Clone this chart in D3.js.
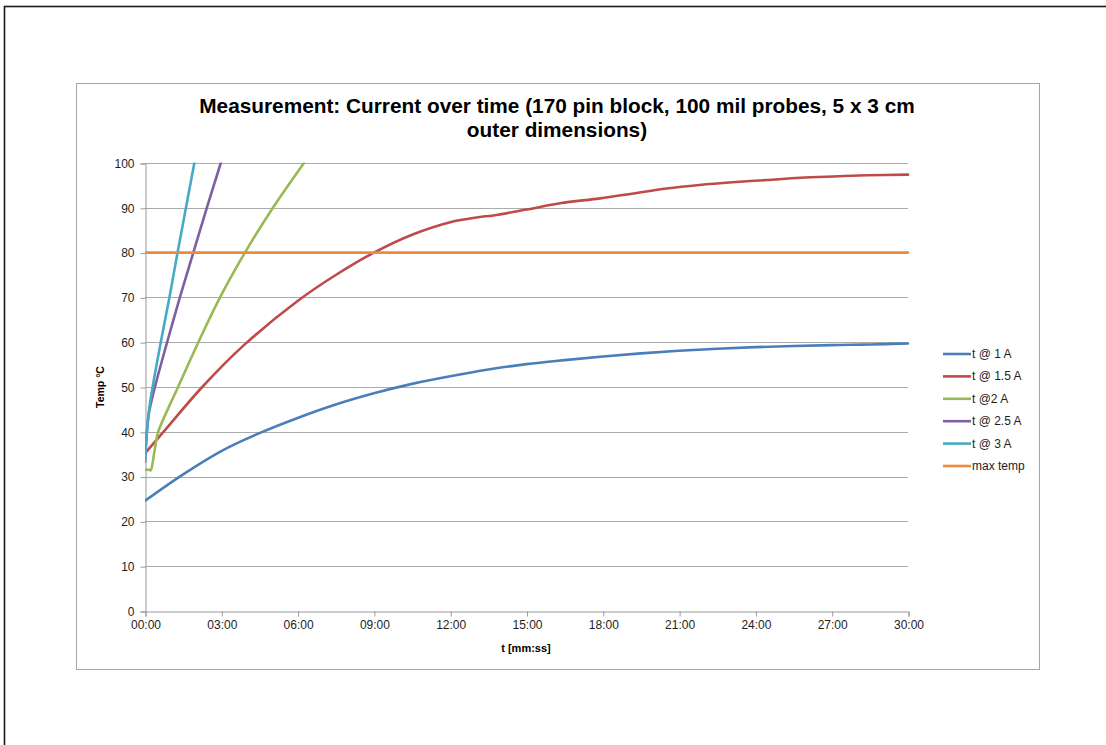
<!DOCTYPE html>
<html>
<head>
<meta charset="utf-8">
<script src="https://cdn.jsdelivr.net/npm/d3@7"></script>
<style>
  html, body { margin: 0; padding: 0; background: #fff; }
  svg { display: block; }
</style>
</head>
<body>
<svg id="chart" width="1106" height="745"></svg>
<script>
// ---------------- data (time in minutes, temperature in °C) ----------------
const titleLines = ["Measurement: Current over time (170 pin block, 100 mil probes, 5 x 3 cm", "outer dimensions)"];
const xAxisTitle = "t [mm:ss]";
const yAxisTitle = "Temp °C";

const xTickValues = [0, 3, 6, 9, 12, 15, 18, 21, 24, 27, 30];
const xTickLabels = ["00:00", "03:00", "06:00", "09:00", "12:00", "15:00", "18:00", "21:00", "24:00", "27:00", "30:00"];
const yTickValues = [0, 10, 20, 30, 40, 50, 60, 70, 80, 90, 100];

const seriesNames = ["t @ 1 A", "t @ 1.5 A", "t @2 A", "t @ 2.5 A", "t @ 3 A", "max temp"];
const seriesColors = ["#4A7EBB", "#BE4B48", "#98B954", "#7D60A0", "#46AAC5", "#EC8B3E"];

const t1A_time = [0, 1.5, 3, 4.5, 6, 7.5, 9, 10.5, 12, 13.5, 15, 16.5, 18, 19.5, 21, 22.5, 24, 25.5, 27, 28.5, 30];
const t1A_temp = [24.6, 30.5, 35.7, 39.7, 43.1, 46.1, 48.6, 50.7, 52.4, 53.9, 55.1, 56.0, 56.8, 57.5, 58.1, 58.55, 58.9, 59.15, 59.35, 59.5, 59.7];

const t15A_time = [0, 0.7, 2.25, 3.9, 6.0, 7.5, 9.0, 10.5, 12.0, 13.1, 13.7, 15.0, 16.32, 17.89, 19.2, 20.5, 21.8, 23.1, 24.45, 25.76, 27.07, 28.38, 30];
const t15A_temp = [35.2, 39.8, 50, 59.4, 69.2, 75, 80, 84.0, 86.8, 87.9, 88.3, 89.6, 91.0, 92.1, 93.2, 94.3, 95.1, 95.7, 96.2, 96.7, 97.0, 97.25, 97.4];

const t2A_time = [0, 0.1, 0.22, 0.27, 0.34, 0.42, 0.52, 1.3, 2.1, 2.95, 3.93, 5.03, 6.25];
const t2A_temp = [31.5, 31.6, 31.4, 32.2, 34.5, 37.3, 40, 50, 60, 70, 80, 90, 100];

const t25A_time = [0, 0.05, 0.15, 0.39, 0.87, 1.37, 1.9, 2.43, 2.98];
const t25A_temp = [33.3, 38, 44, 50, 60, 70, 80, 90, 100];

const t3A_time = [0, 0.05, 0.15, 0.30, 0.62, 0.96, 1.28, 1.61, 1.94];
const t3A_temp = [33.3, 38, 44.5, 50, 60, 70, 80, 90, 100];

const maxTemp_time = [0, 30];
const maxTemp_temp = [80, 80];

// ---------------- build ----------------
const seriesTimes = [t1A_time, t15A_time, t2A_time, t25A_time, t3A_time, maxTemp_time];
const seriesTemps = [t1A_temp, t15A_temp, t2A_temp, t25A_temp, t3A_temp, maxTemp_temp];
const series = seriesNames.map((name, i) => ({
  name, color: seriesColors[i],
  values: seriesTimes[i].map((t, j) => ({ t, v: seriesTemps[i][j] }))
}));

const svg = d3.select("#chart");
const font = "'Liberation Sans', Arial, sans-serif";

// page border (extends beyond the viewport at right and bottom)
svg.append("rect").attr("x", 4.5).attr("y", 6.5).attr("width", 1300).attr("height", 900)
  .attr("fill", "none").attr("stroke", "#1a1a1a").attr("stroke-width", 1.6);

// chart box
svg.append("rect").attr("x", 76.5).attr("y", 83.5).attr("width", 963).attr("height", 586)
  .attr("fill", "#fff").attr("stroke", "#A6A6A6").attr("stroke-width", 1);

const plot = { left: 145, right: 908, top: 163, bottom: 611 };
const x = d3.scaleLinear().domain([0, 30]).range([plot.left, plot.right]);
const y = d3.scaleLinear().domain([0, 100]).range([plot.bottom, plot.top]);

// gridlines
svg.append("g").selectAll("line").data(yTickValues.filter(v => v > 0)).join("line")
  .attr("x1", plot.left).attr("x2", plot.right)
  .attr("y1", d => Math.round(y(d)) + 0.5).attr("y2", d => Math.round(y(d)) + 0.5)
  .attr("stroke", "#ABABAB").attr("stroke-width", 1);

// y axis
const yAxis = svg.append("g").attr("transform", `translate(${plot.left + 0.5},0.5)`)
  .call(d3.axisLeft(y).tickValues(yTickValues).tickSize(5).tickPadding(6).tickFormat(d3.format("d")));
yAxis.select(".domain").attr("stroke", "#9A9A9A");
yAxis.selectAll(".tick line").attr("stroke", "#9A9A9A");
yAxis.selectAll(".tick text").attr("font-family", font).attr("font-size", 12).attr("fill", "#1e1e1e");

// x axis
const xAxis = svg.append("g").attr("transform", `translate(0.5,${plot.bottom + 0.5})`)
  .call(d3.axisBottom(x).tickValues(xTickValues).tickSize(5).tickPadding(4)
    .tickFormat((d, i) => xTickLabels[i]));
xAxis.select(".domain").attr("stroke", "#9A9A9A");
xAxis.selectAll(".tick line").attr("stroke", "#9A9A9A");
xAxis.selectAll(".tick text").attr("font-family", font).attr("font-size", 12).attr("fill", "#1e1e1e");

// clip
svg.append("clipPath").attr("id", "plotclip").append("rect")
  .attr("x", plot.left).attr("y", plot.top - 0.5).attr("width", plot.right - plot.left + 2)
  .attr("height", plot.bottom - plot.top + 1);

const line = d3.line().x(d => x(d.t)).y(d => y(d.v)).curve(d3.curveCatmullRom.alpha(0.5));
svg.append("g").attr("clip-path", "url(#plotclip)").selectAll("path").data(series).join("path")
  .attr("d", d => line(d.values))
  .attr("fill", "none").attr("stroke", d => d.color).attr("stroke-width", 2.6)
  .attr("stroke-linejoin", "round").attr("stroke-linecap", "round");

// title
const titleY = [113, 137];
const tl = svg.append("g").selectAll("text").data(titleLines).join("text")
  .attr("x", 557).attr("y", (d, i) => titleY[i]).attr("text-anchor", "middle")
  .attr("font-family", font).attr("font-weight", "bold").attr("font-size", 20)
  .attr("fill", "#000").text(d => d);
const w0 = tl.nodes()[0].getComputedTextLength();
const fs = 20 * 716 / w0;
tl.attr("font-size", fs);

// axis titles
svg.append("text").attr("x", 526).attr("y", 652).attr("text-anchor", "middle")
  .attr("font-family", font).attr("font-weight", "bold").attr("font-size", 11).attr("fill", "#000")
  .text(xAxisTitle);
svg.append("text").attr("transform", `translate(104,387) rotate(-90)`).attr("text-anchor", "middle")
  .attr("font-family", font).attr("font-weight", "bold").attr("font-size", 10.5).attr("fill", "#000")
  .text(yAxisTitle);

// legend
const legend = svg.append("g").selectAll("g").data(series).join("g")
  .attr("transform", (d, i) => `translate(943,${354 + i * 22.4})`);
legend.append("line").attr("x1", 0).attr("x2", 28).attr("y1", 0).attr("y2", 0)
  .attr("stroke", d => d.color).attr("stroke-width", 2.6);
legend.append("text").attr("x", 29).attr("y", 4).attr("font-family", font).attr("font-size", 12)
  .attr("fill", "#1e1e1e").text(d => d.name);
</script>
</body>
</html>
